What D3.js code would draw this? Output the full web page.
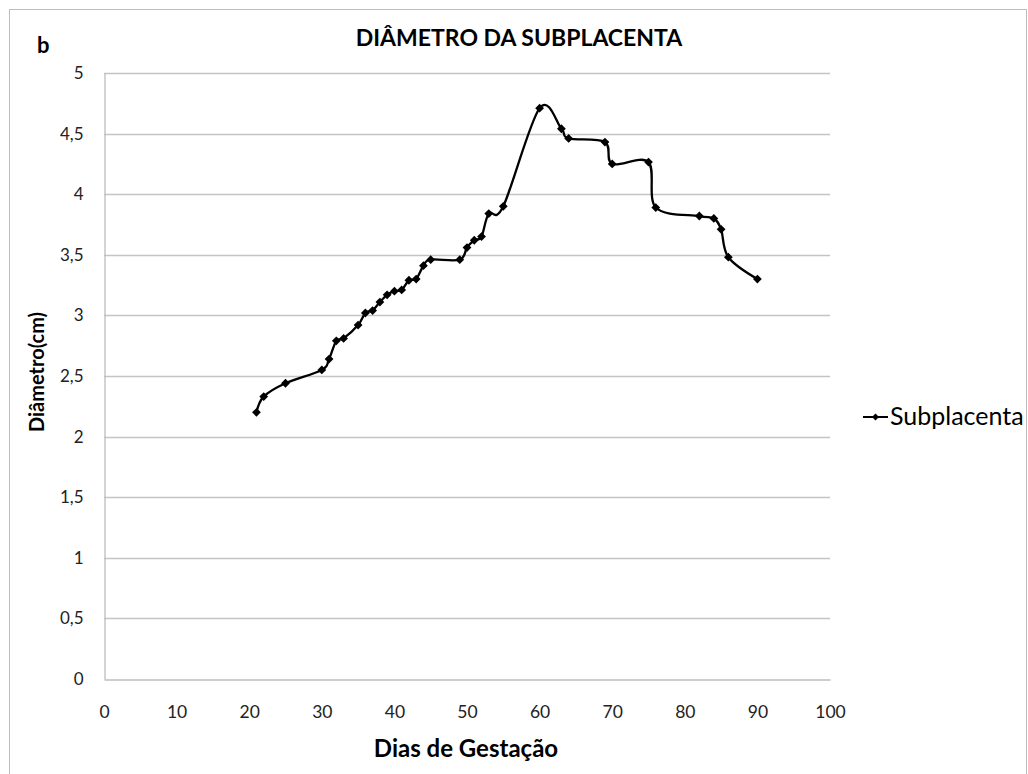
<!DOCTYPE html>
<html><head><meta charset="utf-8">
<script src="https://cdn.jsdelivr.net/npm/d3@7"></script>
<style>body{margin:0;background:#fff}svg{display:block}text{font-family:Lato,"Open Sans",sans-serif}</style>
</head><body><svg id="c" width="1028" height="774"></svg>
<script>
const days = [21,22,25,30,31,32,33,35,36,37,38,39,40,41,42,43,44,45,49,50,51,52,53,55,60,63,64,69,70,75,76,82,84,85,86,90];
const diameter = [2.20,2.33,2.44,2.55,2.64,2.79,2.81,2.92,3.02,3.04,3.11,3.17,3.20,3.21,3.29,3.30,3.41,3.46,3.46,3.56,3.62,3.65,3.84,3.90,4.71,4.54,4.46,4.43,4.25,4.265,3.89,3.82,3.80,3.71,3.48,3.30];
const xTicks = [0,10,20,30,40,50,60,70,80,90,100];
const yTicks = [0,0.5,1,1.5,2,2.5,3,3.5,4,4.5,5];
const seriesName = "Subplacenta";

const svg = d3.select("#c");
svg.append("rect").attr("x",9.5).attr("y",9.5).attr("width",1017).attr("height",775)
  .attr("fill","#fff").attr("stroke","#bdbdbd").attr("stroke-width",1);

const x = d3.scaleLinear().domain([0,100]).range([104,830]);
const y = d3.scaleLinear().domain([0,5]).range([679,73]);
const fmt = d => String(d).replace(".",",");

// gridlines
svg.append("g").selectAll("line").data(yTicks.filter(d=>d>0)).join("line")
  .attr("x1",x(0)).attr("x2",x(100)).attr("y1",d=>Math.round(y(d))+0.5).attr("y2",d=>Math.round(y(d))+0.5)
  .attr("stroke","#c4c4c4").attr("stroke-width",1.3);

// y axis
const ya = svg.append("g").attr("transform",`translate(${x(0)+0.5},0)`)
  .call(d3.axisLeft(y).tickValues(yTicks).tickFormat(fmt).tickSize(0).tickPadding(21));
ya.select(".domain").attr("stroke","#bdbdbd").attr("stroke-width",1.3);
ya.selectAll("text").attr("font-size",17).attr("fill","#222").style("font-family","Lato");

// x axis
const xa = svg.append("g").attr("transform",`translate(0,${Math.round(y(0))+0.5})`)
  .call(d3.axisBottom(x).tickValues(xTicks).tickFormat(d3.format("d")).tickSize(0).tickPadding(26));
xa.select(".domain").attr("stroke","#bdbdbd").attr("stroke-width",1.3);
xa.selectAll("text").attr("font-size",17.5).attr("fill","#222").style("font-family","Lato");

const data = days.map((d,i)=>({x:d,y:diameter[i]}));
const line = d3.line().x(d=>x(d.x)).y(d=>y(d.y)).curve(d3.curveCardinal.tension(0));
svg.append("path").datum(data).attr("d",line).attr("fill","none").attr("stroke","#000").attr("stroke-width",2.3);

const diamond = r => `M0,${-r}L${r},0L0,${r}L${-r},0Z`;
svg.append("g").selectAll("path").data(data).join("path")
  .attr("transform",d=>`translate(${x(d.x)},${y(d.y)})`).attr("d",diamond(4.4)).attr("fill","#000");

// titles
svg.append("text").attr("x",519).attr("y",46).attr("text-anchor","middle")
  .attr("font-size",23).attr("font-weight","bold").attr("fill","#000").text("DIÂMETRO DA SUBPLACENTA");
svg.append("text").attr("x",37).attr("y",53).attr("font-size",22).attr("font-weight","bold").attr("fill","#000").text("b");
svg.append("text").attr("x",466).attr("y",757).attr("text-anchor","middle")
  .attr("font-size",24).attr("font-weight","bold").attr("fill","#000").text("Dias de Gestação");
svg.append("text").attr("transform","translate(44,372) rotate(-90)").attr("text-anchor","middle")
  .attr("font-size",20).attr("font-weight","bold").attr("fill","#000").text("Diâmetro(cm)");

// legend
const lg = svg.append("g").attr("transform","translate(863,417)");
lg.append("line").attr("x1",0).attr("x2",25).attr("y1",0).attr("y2",0).attr("stroke","#000").attr("stroke-width",2);
lg.append("path").attr("transform","translate(12.5,0)").attr("d",diamond(3.5)).attr("fill","#000");
lg.append("text").attr("x",27).attr("y",8).attr("font-size",25).attr("fill","#000").text(seriesName);
</script></body></html>
